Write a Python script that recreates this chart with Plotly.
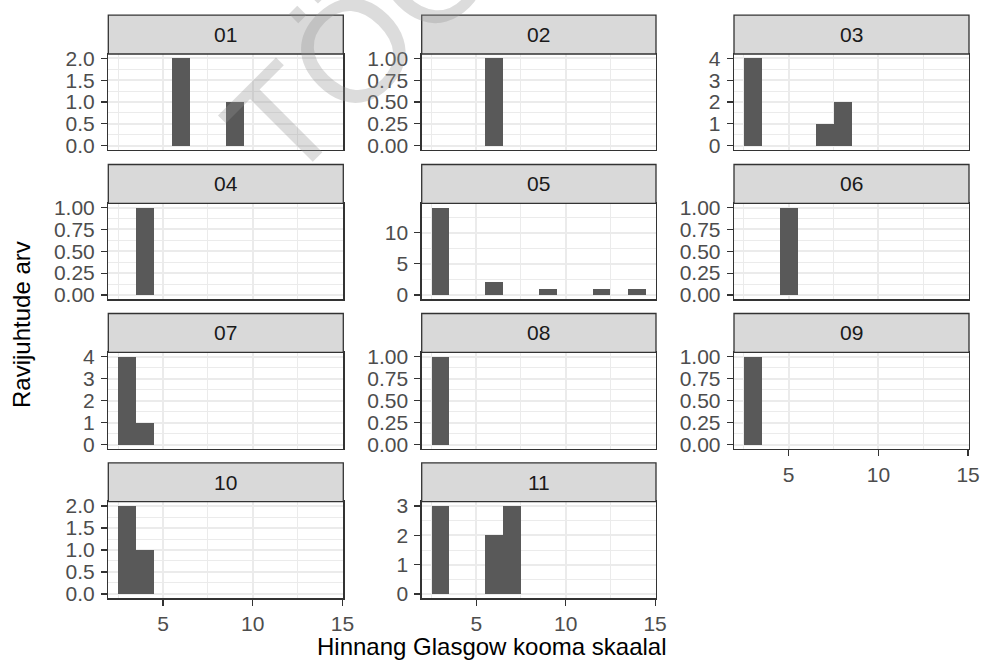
import plotly.graph_objects as go

W, H = 984, 661

# ---- data (GCS score -> number of cases), per facet ----
panel_labels = ["01", "02", "03", "04", "05", "06", "07", "08", "09", "10", "11"]

gcs_01 = [6, 9]
cnt_01 = [2, 1]
gcs_02 = [6]
cnt_02 = [1]
gcs_03 = [3, 7, 8]
cnt_03 = [4, 1, 2]
gcs_04 = [4]
cnt_04 = [1]
gcs_05 = [3, 6, 9, 12, 14]
cnt_05 = [14, 2, 1, 1, 1]
gcs_06 = [5]
cnt_06 = [1]
gcs_07 = [3, 4]
cnt_07 = [4, 1]
gcs_08 = [3]
cnt_08 = [1]
gcs_09 = [3]
cnt_09 = [1]
gcs_10 = [3, 4]
cnt_10 = [2, 1]
gcs_11 = [3, 6, 7]
cnt_11 = [3, 2, 3]

# y tick values per facet
yt_01 = [0, 0.5, 1.0, 1.5, 2.0]
yt_02 = [0, 0.25, 0.5, 0.75, 1.0]
yt_03 = [0, 1, 2, 3, 4]
yt_04 = [0, 0.25, 0.5, 0.75, 1.0]
yt_05 = [0, 5, 10]
yt_06 = [0, 0.25, 0.5, 0.75, 1.0]
yt_07 = [0, 1, 2, 3, 4]
yt_08 = [0, 0.25, 0.5, 0.75, 1.0]
yt_09 = [0, 0.25, 0.5, 0.75, 1.0]
yt_10 = [0, 0.5, 1.0, 1.5, 2.0]
yt_11 = [0, 1, 2, 3]

x_ticks = [5, 10, 15]
x_minor = [2.5, 7.5, 12.5]

x_title = "Hinnang Glasgow kooma skaalal"
y_title = "Ravijuhtude arv"
watermark = "TÖÖ"

data = [
    (gcs_01, cnt_01, yt_01), (gcs_02, cnt_02, yt_02), (gcs_03, cnt_03, yt_03),
    (gcs_04, cnt_04, yt_04), (gcs_05, cnt_05, yt_05), (gcs_06, cnt_06, yt_06),
    (gcs_07, cnt_07, yt_07), (gcs_08, cnt_08, yt_08), (gcs_09, cnt_09, yt_09),
    (gcs_10, cnt_10, yt_10), (gcs_11, cnt_11, yt_11),
]

# ---- layout geometry (screen pixels) ----
col_x = [(108.3, 343.3), (421.7, 656.0), (734.0, 969.0)]
row_y = [(54.0, 150.0), (203.3, 299.3), (352.3, 449.0), (501.7, 598.3)]
strip_h = 38.8
bottom_panels = {"09", "10", "11"}

FONT = "Liberation Sans, Arial, sans-serif"
TICK_COL = "#4D4D4D"
DARK = "#333333"
GRID = "#EBEBEB"


def px_x(v):
    return v / W


def px_y(v):
    return 1 - v / H


def fmt(vals):
    step = vals[1] - vals[0]
    if step == 0.25:
        return [f"{v:.2f}" for v in vals]
    if step == 0.5:
        return [f"{v:.1f}" for v in vals]
    return [f"{int(v)}" for v in vals]


fig = go.Figure()
shapes = []
annotations = []

for i, lab in enumerate(panel_labels):
    r, c = divmod(i, 3)
    gx, gy, yt = data[i]
    x0, x1 = col_x[c]
    top, bot = row_y[r]
    n = i + 1
    xa = "x" if n == 1 else f"x{n}"
    ya = "y" if n == 1 else f"y{n}"
    fig.add_trace(go.Bar(
        x=gx, y=gy, width=1.0, xaxis=xa, yaxis=ya,
        marker=dict(color="#595959", line=dict(width=0)),
        showlegend=False, hoverinfo="x+y",
    ))
    ymax = max(gy)
    step = yt[1] - yt[0]
    yminor = [v + step / 2 for v in yt if v + step / 2 <= ymax * 1.05]
    show_x = lab in bottom_panels
    xkey = "xaxis" if n == 1 else f"xaxis{n}"
    ykey = "yaxis" if n == 1 else f"yaxis{n}"
    fig.update_layout(**{
        xkey: dict(
            domain=[px_x(x0), px_x(x1)], anchor=ya, range=[1.95, 15.05],
            automargin=False, ticklabeloverflow="allow",
            tickmode="array", tickvals=x_ticks,
            showticklabels=show_x, ticks="outside" if show_x else "",
            ticklen=6, tickwidth=1.2, tickcolor=DARK,
            tickfont=dict(family=FONT, size=21, color=TICK_COL),
            showgrid=True, gridcolor=GRID, gridwidth=2,
            minor=dict(tickvals=x_minor, showgrid=True, gridcolor=GRID, gridwidth=1, ticks=""),
            showline=True, mirror=True, linecolor=DARK, linewidth=1.3,
            zeroline=False, fixedrange=True,
        ),
        ykey: dict(
            domain=[px_y(bot), px_y(top)], anchor=xa,
            automargin=False,
            range=[-0.05 * ymax, 1.05 * ymax],
            tickmode="array", tickvals=yt, ticktext=fmt(yt),
            ticks="outside", ticklen=6, tickwidth=1.2, tickcolor=DARK,
            ticklabelstandoff=2,
            tickfont=dict(family=FONT, size=21, color=TICK_COL),
            showgrid=True, gridcolor=GRID, gridwidth=2,
            minor=dict(tickvals=yminor, showgrid=True, gridcolor=GRID, gridwidth=1, ticks=""),
            showline=True, mirror=True, linecolor=DARK, linewidth=1.3,
            zeroline=False, fixedrange=True,
        ),
    })
    # strip
    shapes.append(dict(
        type="rect", xref="paper", yref="paper",
        x0=px_x(x0), x1=px_x(x1), y0=px_y(top), y1=px_y(top - strip_h),
        fillcolor="#D9D9D9", line=dict(color=DARK, width=1.3), layer="above",
    ))
    annotations.append(dict(
        text=lab, xref="paper", yref="paper",
        x=px_x((x0 + x1) / 2), y=px_y(top - strip_h / 2),
        xanchor="center", yanchor="middle", showarrow=False,
        font=dict(family=FONT, size=21, color="#1A1A1A"),
    ))

annotations.append(dict(
    text=x_title, xref="paper", yref="paper", x=px_x(491.5), y=px_y(646),
    xanchor="center", yanchor="middle", showarrow=False,
    font=dict(family=FONT, size=24, color="#000000"),
))
annotations.append(dict(
    text=y_title, xref="paper", yref="paper", x=px_x(22), y=px_y(325),
    xanchor="center", yanchor="middle", showarrow=False, textangle=-90,
    font=dict(family=FONT, size=24, color="#000000"),
))
annotations.append(dict(
    text=watermark, xref="paper", yref="paper", x=px_x(362), y=px_y(42),
    xanchor="center", yanchor="middle", showarrow=False, textangle=-45,
    font=dict(family=FONT, size=145, color="rgba(145,145,145,0.32)"),
))

fig.update_layout(
    width=W, height=H, margin=dict(l=0, r=0, t=0, b=0, autoexpand=False),
    paper_bgcolor="white", plot_bgcolor="white",
    shapes=shapes, annotations=annotations, bargap=0,
)

fig.write_html(
    "out.html",
    config={"displayModeBar": False, "staticPlot": True},
    post_script="document.body.style.margin='0';document.body.style.overflow='hidden';",
)
